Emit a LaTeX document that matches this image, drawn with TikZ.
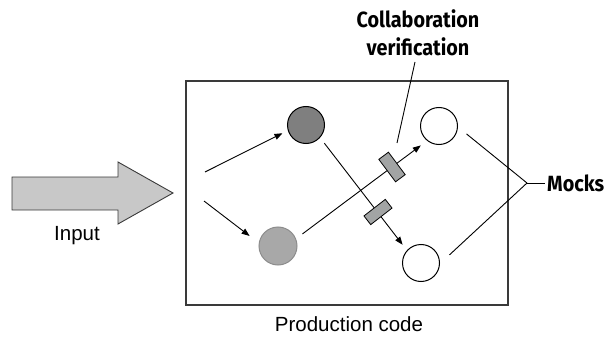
\documentclass[tikz,border=0pt]{standalone}
\usepackage{fontspec}
\setmainfont{Liberation Sans}
\newfontfamily\labfont[FakeStretch=0.9]{Fira Sans}
\usetikzlibrary{arrows.meta}
\definecolor{probegray}{HTML}{A2A4A4}
\definecolor{darkfill}{HTML}{7F7F7F}
\definecolor{lightfill}{HTML}{A8A8A8}
\definecolor{lightedge}{HTML}{8C8C8C}
\definecolor{arrowfill}{HTML}{C8C8C8}
\definecolor{boxedge}{HTML}{3A3A3A}
\begin{document}
\begin{tikzpicture}[x=1pt,y=-1pt,
  circ/.style={circle, draw=black, line width=1pt, minimum size=37pt, inner sep=0pt},
  arr/.style={line width=0.9pt, -{Triangle[length=8pt,width=6pt]}},
  conn/.style={line width=0.9pt},
  probe/.style={draw=black, fill=probegray, line width=0.8pt, minimum width=12pt, minimum height=28pt, inner sep=0pt},
  lbl/.style={font=\fontsize{20.5}{24}\selectfont},
  blbl/.style={font=\labfont\bfseries\fontsize{22}{28}\selectfont, align=center}
]
\useasboundingbox (0,0) rectangle (606,337);

% input arrow
\draw[draw=boxedge, fill=arrowfill, line width=0.9pt]
  (12,177) -- (118,177) -- (118,162) -- (173,193) -- (118,224) -- (118,210) -- (12,210) -- cycle;
\node[lbl] (input) at (77,236) {Input};

% production box
\node[draw=boxedge, line width=1.3pt, minimum width=322pt, minimum height=224pt, inner sep=0pt] (box) at (347,193) {};
\node[lbl] (prod) at (349,324) {Production code};

% circles
\node[circ, fill=darkfill] (dark) at (306,125) {};
\node[circ, fill=lightfill, draw=lightedge, minimum size=38pt] (light) at (278,246) {};
\node[circ] (tw) at (439,126) {};
\node[circ] (bw) at (421,263) {};

% input arrows
\coordinate (s1) at (205,172);
\coordinate (s2) at (204,201);
\draw[arr, shorten >=6pt] (s1) -- (dark.197);
\draw[arr, shorten >=11.5pt] (s2) -- (light.171);

% crossing connectors
\draw[arr, shorten <=8pt, shorten >=7.8pt] (light.22) -- (tw.231);
\draw[arr, shorten <=7pt, shorten >=7pt] (dark.318) -- (bw.138);

% probes
\node[probe, rotate=36.8] (p1) at (392,167) {};
\node[probe, rotate=-52.2, minimum width=11pt, minimum height=27pt] (p2) at (378,212) {};

% collaboration verification
\node[blbl, inner sep=1pt] (collab) at (418,33) {Collaboration\\verification};
\coordinate (cv) at (397,143);
\draw[conn] (cv) -- (415,62);

% mocks
\coordinate (J) at (527,183);
\node[blbl, anchor=west, inner sep=2pt] (mocks) at (545,183) {Mocks};
\draw[conn, shorten <=11pt] (tw.-3) -- (J);
\draw[conn, shorten <=13pt] (bw.-2) -- (J);
\draw[conn] (J) -- (mocks.west);
\end{tikzpicture}
\end{document}
